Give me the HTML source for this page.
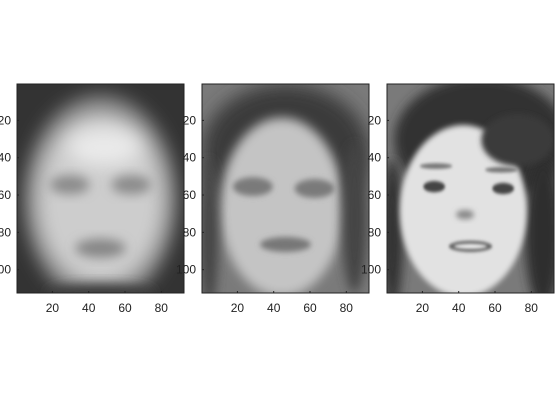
<!DOCTYPE html>
<html><head><meta charset="utf-8"><style>
html,body{margin:0;padding:0;background:#fff}
svg{display:block;font-family:"Liberation Sans",sans-serif}
</style></head><body>
<svg id="chart" width="560" height="420" viewBox="0 0 560 420">
<defs>
<filter id="b1" x="-50%" y="-50%" width="200%" height="200%"><feGaussianBlur stdDeviation="5"/></filter>
<filter id="b2" x="-50%" y="-50%" width="200%" height="200%"><feGaussianBlur stdDeviation="3"/></filter>
<filter id="b3" x="-50%" y="-50%" width="200%" height="200%"><feGaussianBlur stdDeviation="1.5"/></filter>
<filter id="b4" x="-50%" y="-50%" width="200%" height="200%"><feGaussianBlur stdDeviation="0.8"/></filter>
<clipPath id="cp"><rect x="0" y="0" width="92" height="112"/></clipPath>
</defs>
<g id="panels"></g>
</svg>
<script>
const panelLefts=[17,202,387];
const panelNames=['mean-face','reconstructed-face','original-face'];
const xTicks=[20,40,60,80];
const yTicks=[20,40,60,80,100];
const nCols=92,nRows=112;
const topY=84,pw=167,ph=209;
const NS='http://www.w3.org/2000/svg';
function mk(tag,attrs,parent){const e=document.createElementNS(NS,tag);for(const k in attrs)e.setAttribute(k,attrs[k]);parent.appendChild(e);return e;}
function sx(left,v){return left+(v-0.5)*pw/nCols;}
function sy(v){return topY+(v-0.5)*ph/nRows;}
const faces=[
 [['rect',{x:0,y:0,width:92,height:112,fill:'#333'}],
  ['ellipse',{cx:46,cy:62,rx:42,ry:56,fill:'#8a8a8a',filter:'url(#b1)'}],
  ['ellipse',{cx:46,cy:62,rx:35,ry:46,fill:'#cdcdcd',filter:'url(#b1)'}],
  ['ellipse',{cx:48,cy:34,rx:20,ry:10,fill:'#eaeaea',filter:'url(#b1)'}],
  ['ellipse',{cx:29,cy:54,rx:11,ry:5,fill:'#8a8a8a',filter:'url(#b2)'}],
  ['ellipse',{cx:63,cy:54,rx:11,ry:5,fill:'#8a8a8a',filter:'url(#b2)'}],
  ['ellipse',{cx:46,cy:88,rx:14,ry:5,fill:'#858585',filter:'url(#b2)'}],
  ['ellipse',{cx:46,cy:112,rx:30,ry:5,fill:'#3a3a3a',filter:'url(#b2)'}]],
 [['rect',{x:0,y:0,width:92,height:112,fill:'#7a7a7a'}],
  ['ellipse',{cx:46,cy:36,rx:46,ry:36,fill:'#3a3a3a',filter:'url(#b1)'}],
  ['ellipse',{cx:44,cy:66,rx:34,ry:48,fill:'#c4c4c4',filter:'url(#b2)'}],
  ['ellipse',{cx:84,cy:72,rx:7,ry:40,fill:'#444',filter:'url(#b2)'}],
  ['ellipse',{cx:4,cy:80,rx:5,ry:40,fill:'#444',filter:'url(#b2)'}],
  ['ellipse',{cx:28,cy:55,rx:11,ry:5,fill:'#7a7a7a',filter:'url(#b3)'}],
  ['ellipse',{cx:62,cy:56,rx:11,ry:5,fill:'#7a7a7a',filter:'url(#b3)'}],
  ['ellipse',{cx:46,cy:86,rx:14,ry:4,fill:'#777',filter:'url(#b3)'}]],
 [['rect',{x:0,y:0,width:92,height:112,fill:'#7a7a7a'}],
  ['ellipse',{cx:52,cy:30,rx:48,ry:34,fill:'#303030',filter:'url(#b2)'}],
  ['ellipse',{cx:86,cy:80,rx:10,ry:40,fill:'#2e2e2e',filter:'url(#b2)'}],
  ['ellipse',{cx:3,cy:80,rx:6,ry:40,fill:'#333',filter:'url(#b2)'}],
  ['ellipse',{cx:42,cy:68,rx:35,ry:46,fill:'#e2e2e2',filter:'url(#b3)'}],
  ['ellipse',{cx:72,cy:30,rx:20,ry:14,fill:'#3a3a3a',filter:'url(#b3)'}],
  ['ellipse',{cx:26,cy:55,rx:6,ry:3,fill:'#444',filter:'url(#b4)'}],
  ['ellipse',{cx:64,cy:56,rx:6,ry:3,fill:'#444',filter:'url(#b4)'}],
  ['ellipse',{cx:27,cy:44,rx:9,ry:1.5,fill:'#777',filter:'url(#b4)'}],
  ['ellipse',{cx:63,cy:46,rx:9,ry:1.5,fill:'#777',filter:'url(#b4)'}],
  ['ellipse',{cx:43,cy:70,rx:5,ry:2.5,fill:'#888',filter:'url(#b3)'}],
  ['ellipse',{cx:46,cy:87,rx:12,ry:3,fill:'#666',filter:'url(#b4)'}],
  ['ellipse',{cx:46,cy:87,rx:9,ry:1.3,fill:'#f0f0f0',filter:'url(#b4)'}]]
];
const root=document.getElementById('panels');
panelLefts.forEach((left,i)=>{
  const g=mk('g',{},root);
  
  
  const img=mk('g',{transform:`translate(${left},${topY}) scale(${pw/nCols},${ph/nRows})`,'clip-path':'url(#cp)'},g);
  
  
  faces[i].forEach(([t,a])=>mk(t,a,img));
  const fr=mk('rect',{x:left,y:topY,width:pw,height:ph,fill:'none',stroke:'#222','stroke-width':1},g);
  
  
  xTicks.forEach(v=>{
    const x=sx(left,v);
    mk('line',{x1:x,x2:x,y1:topY+ph,y2:topY+ph-2,stroke:'#222'},g);
    const t=mk('text',{x:x,y:topY+ph+19,'font-size':12,'text-anchor':'middle',fill:'#222'},g);
    t.textContent=v;
    
    
  });
  yTicks.forEach(v=>{
    const y=sy(v);
    mk('line',{x1:left,x2:left+2,y1:y,y2:y,stroke:'#222'},g);
    const t=mk('text',{x:left-6,y:y+4,'font-size':12,'text-anchor':'end',fill:'#222'},g);
    t.textContent=v;
    
    
  });
});
</script>
</body></html>
